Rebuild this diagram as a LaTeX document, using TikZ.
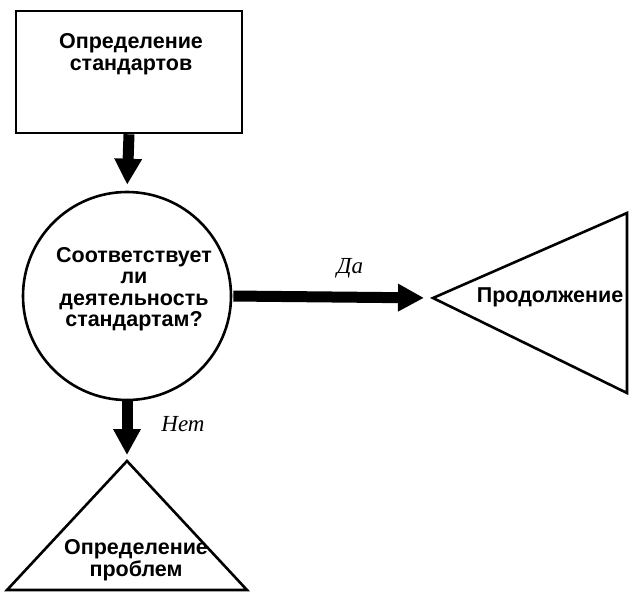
\documentclass[tikz,border=0pt]{standalone}
\usepackage{fontspec}
\setmainfont{Liberation Sans}
\newfontfamily\labelfont{Liberation Serif}
\usetikzlibrary{arrows.meta}
\begin{document}
\begin{tikzpicture}[x=1pt,y=-1pt,
  outline/.style={draw, line width=2.6pt, line join=miter},
  lbl/.style={font=\fontsize{21.5}{21.5}\selectfont\bfseries, align=center, inner sep=0pt},
  yesno/.style={font=\labelfont\itshape\fontsize{23}{23}\selectfont, inner sep=0pt},
  flow/.style={line width=11pt, -{Triangle[width=26pt,length=26pt]}}]
\useasboundingbox (0,0) rectangle (639,600);
% rectangle
\node[outline, rectangle, minimum width=226pt, minimum height=122pt, inner sep=0pt] (std) at (129,72) {};
\node[lbl] (stdtext) at (131,54) {Определение\\стандартов};
% circle
\node[outline, circle, minimum size=208pt, inner sep=0pt] (check) at (127,296) {};
\node[lbl] (checktext) at (134,289) {Соответствует\\ли\\деятельность\\стандартам?};
% right triangle
\coordinate (ctip) at (433,298);
\coordinate (ctop) at (627,213);
\coordinate (cbot) at (627,393);
\draw[outline] (ctip) -- (ctop) -- (cbot) -- cycle;
\node[lbl] (conttext) at (550,297) {Продолжение};
% bottom triangle
\coordinate (ptip) at (127,461);
\coordinate (pleft) at (7,590);
\coordinate (pright) at (247,590);
\draw[outline] (ptip) -- (pleft) -- (pright) -- cycle;
\node[lbl] (probtext) at (136,560) {Определение\\проблем};
% connectors
\draw[flow, shorten >=6pt] (std.south) -- (check.north);
\draw[flow, shorten >=9pt, shorten <=1pt] (check.east) -- (ctip);
\draw[flow, shorten >=6pt] (check.south) -- (ptip);
\node[yesno] (yes) at (350,268) {Да};
\node[yesno] (no) at (183,424) {Нет};
\end{tikzpicture}
\end{document}
